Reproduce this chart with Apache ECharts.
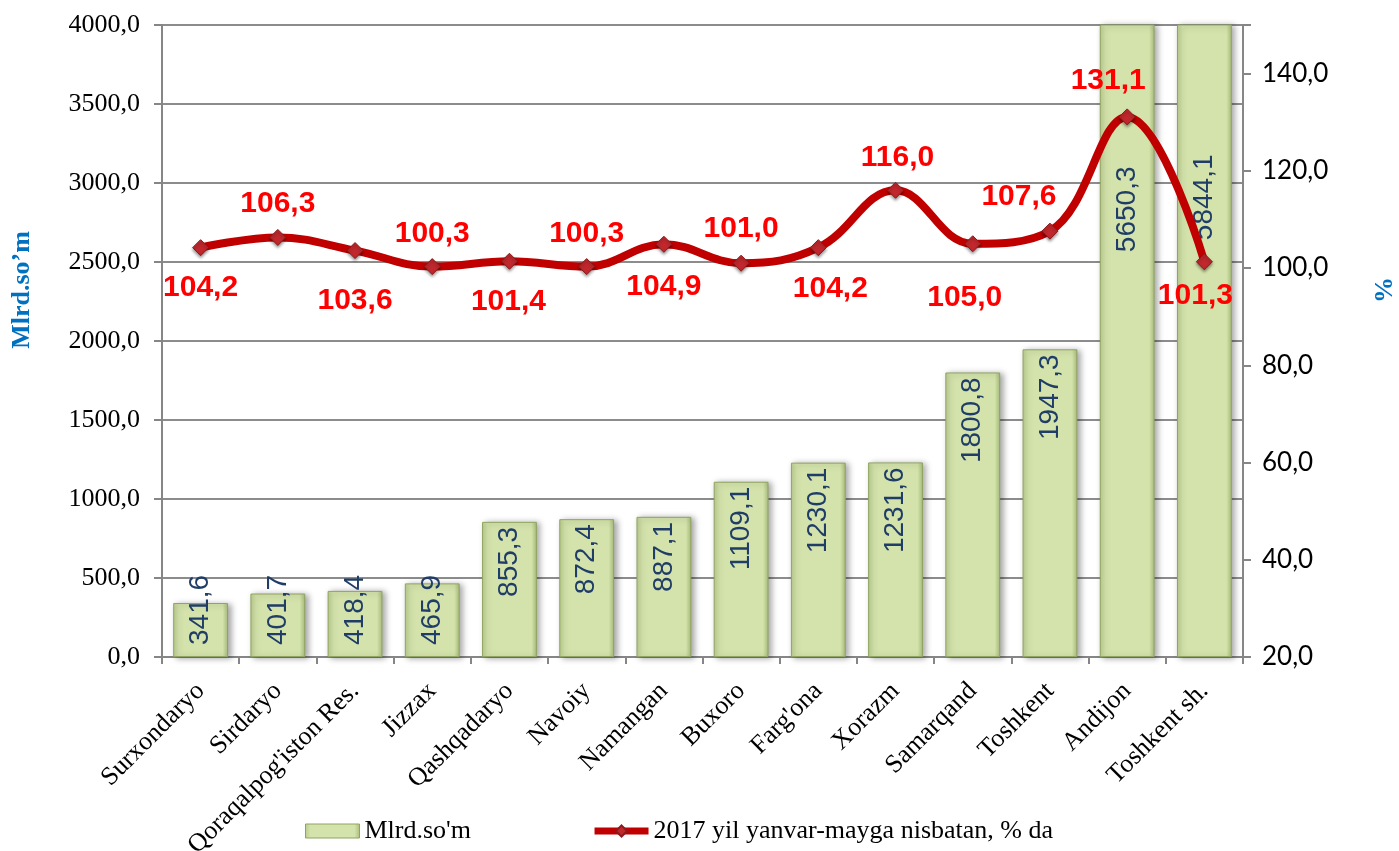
<!DOCTYPE html>
<html>
<head>
<meta charset="utf-8">
<script src="https://cdn.jsdelivr.net/npm/echarts@6/dist/echarts.min.js"></script>
<style>html,body{margin:0;padding:0;background:#fff;overflow:hidden}#c{width:1399px;height:851px}</style>
</head>
<body>
<div id="c"></div>
<script>
const categories = ["Surxondaryo","Sirdaryo","Qoraqalpog'iston Res.","Jizzax","Qashqadaryo","Navoiy","Namangan","Buxoro","Farg'ona","Xorazm","Samarqand","Toshkent","Andijon","Toshkent sh."];
const volume = [341.6, 401.7, 418.4, 465.9, 855.3, 872.4, 887.1, 1109.1, 1230.1, 1231.6, 1800.8, 1947.3, 5650.3, 5844.1];
const percent = [104.2, 106.3, 103.6, 100.3, 101.4, 100.3, 104.9, 101.0, 104.2, 116.0, 105.0, 107.6, 131.1, 101.3];
const leftTicks = [0, 4000, 500];
const rightTicks = [20, 150, 20];
const barName = "Mlrd.so'm";
const lineName = "2017 yil yanvar-mayga nisbatan, % da";
const leftTitle = "Mlrd.so’m";
const rightTitle = "%";

const fmt = v => Number(v).toFixed(1).replace('.', ',');

// label offsets relative to each point (style only)
const labelOffsets = [[0,40],[0,-34],[0,50],[0,-33],[-1,40],[0,-33],[0,42],[0,-34],[12,41],[2,-33],[-8,54],[-31,-34],[-19,-36],[-9,34]];

const barFill = {
  type: 'linear', x: 0, y: 0, x2: 1, y2: 0,
  colorStops: [
    {offset: 0, color: '#B9CC8C'},
    {offset: 0.1, color: '#D4E3AB'},
    {offset: 0.9, color: '#D4E3AB'},
    {offset: 1, color: '#A9BD7C'}
  ]
};

const barData = volume.map((v, i) => {
  let label;
  if (v < 500) {
    label = {position: 'insideBottom', align: 'left', verticalAlign: 'middle', distance: 12};
  } else if (v > 4000) {
    label = {position: 'insideTop', align: 'right', verticalAlign: 'middle', distance: i === 12 ? 142 : 130};
  } else {
    label = {position: 'insideTop', align: 'right', verticalAlign: 'middle', distance: 5};
  }
  return {value: v, label: label};
});

const lineData = percent.map((v, i) => ({
  value: v,
  label: {position: 'inside', offset: labelOffsets[i]}
}));

const chart = echarts.init(document.getElementById('c'), null, {renderer: 'canvas', width: 1399, height: 851});
chart.setOption({
  animation: false,
  backgroundColor: '#ffffff',
  grid: {left: 162, right: 156, top: 25, bottom: 194, containLabel: false, outerBoundsMode: 'none'},
  graphic: [
    {type: 'text', x: 22, y: 290, rotation: Math.PI / 2,
     style: {text: leftTitle, align: 'center', verticalAlign: 'middle', fontFamily: 'Liberation Serif', fontSize: 26, fontWeight: 'bold', fill: '#0070C0'}},
    {type: 'text', x: 1385, y: 290, rotation: Math.PI / 2,
     style: {text: rightTitle, align: 'center', verticalAlign: 'middle', fontFamily: 'Liberation Serif', fontSize: 26, fontWeight: 'bold', fill: '#0070C0'}}
  ],
  legend: {
    left: 300, top: 813,
    itemGap: 120, itemWidth: 54, itemHeight: 14,
    textStyle: {fontFamily: 'Liberation Serif', fontSize: 26, color: '#000'},
    data: [
      {name: barName, icon: 'rect', itemStyle: {color: barFill, borderColor: '#8FA461', borderWidth: 1}},
      {name: lineName, lineStyle: {color: '#C00000', width: 7}}
    ]
  },
  xAxis: {
    type: 'category',
    data: categories,
    boundaryGap: true,
    axisLine: {lineStyle: {color: '#868686', width: 2}},
    axisTick: {show: true, alignWithLabel: false, length: 7, lineStyle: {color: '#868686', width: 2}},
    axisLabel: {rotate: 45, interval: 0, margin: 30, fontFamily: 'Liberation Serif', fontSize: 26, color: '#000'}
  },
  yAxis: [
    {
      type: 'value', min: leftTicks[0], max: leftTicks[1], interval: leftTicks[2],
      axisLine: {show: true, lineStyle: {color: '#868686', width: 2}},
      axisTick: {show: true, length: 8, lineStyle: {color: '#868686', width: 2}},
      axisLabel: {formatter: fmt, margin: 22, fontFamily: 'Liberation Serif', fontSize: 26, color: '#000'},
      splitLine: {show: true, lineStyle: {color: '#8C8C8C', width: 2}}
    },
    {
      type: 'value', min: rightTicks[0], max: rightTicks[1], interval: rightTicks[2],
      position: 'right',
      axisLine: {show: true, lineStyle: {color: '#868686', width: 2}},
      axisTick: {show: true, length: 8, lineStyle: {color: '#868686', width: 2}},
      axisLabel: {formatter: v => (v > 140 ? '' : fmt(v)), margin: 19, fontFamily: 'Lato', fontSize: 26, color: '#000'},
      splitLine: {show: false}
    }
  ],
  series: [
    {
      name: barName,
      type: 'bar',
      yAxisIndex: 0,
      barCategoryGap: '29%',
      data: barData,
      itemStyle: {color: barFill, borderColor: '#8FA461', borderWidth: 1, shadowColor: 'rgba(0,0,0,0.35)', shadowBlur: 6, shadowOffsetX: 3, shadowOffsetY: 1},
      label: {show: true, rotate: 90, formatter: p => fmt(p.value), fontFamily: 'Liberation Sans', fontSize: 28, color: '#1F3D66'},
      z: 2
    },
    {
      name: lineName,
      type: 'line',
      yAxisIndex: 1,
      smooth: 0.4,
      data: lineData,
      symbol: 'diamond',
      symbolSize: 16,
      lineStyle: {color: '#C00000', width: 8},
      itemStyle: {color: '#C0282D', borderColor: '#8B1A1A', borderWidth: 1, shadowColor: 'rgba(0,0,0,0.4)', shadowBlur: 3, shadowOffsetY: 2},
      label: {show: true, formatter: p => fmt(p.value), fontFamily: 'Liberation Sans', fontSize: 30, fontWeight: 'bold', color: '#FF0000'},
      z: 5
    }
  ]
});
</script>
</body>
</html>
